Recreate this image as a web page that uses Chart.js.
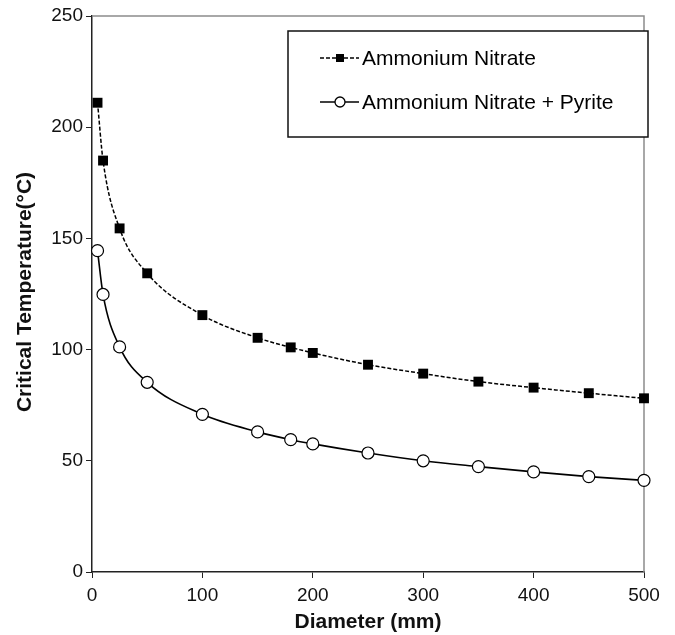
<!DOCTYPE html>
<html>
<head>
<meta charset="utf-8">
<script src="https://cdn.jsdelivr.net/npm/chart.js@4"></script>
<style>
  html, body { margin: 0; padding: 0; background: #fff; }
  #wrap { width: 675px; height: 635px; }
</style>
</head>
<body>
<div id="wrap"><canvas id="chart" width="675" height="635"></canvas></div>
<script>
// values
const diameters = [5, 10, 25, 50, 100, 150, 180, 200, 250, 300, 350, 400, 450, 500];
const nitrateTemps = [211, 185, 154.5, 134.3, 115.5, 105.3, 101, 98.5, 93.2, 89.2, 85.6, 82.9, 80.4, 78.1];
const pyriteTemps = [144.5, 124.8, 101.2, 85.3, 70.9, 63, 59.5, 57.6, 53.5, 50, 47.4, 45, 42.9, 41.2];
const seriesNames = ['Ammonium Nitrate', 'Ammonium Nitrate + Pyrite'];
const xTicks = [0, 100, 200, 300, 400, 500];
const yTicks = [0, 50, 100, 150, 200, 250];
const yTitle = 'Critical Temperature(°C)';

const font = 'Liberation Sans, Arial, sans-serif';

function toPoints(ys) {
    return diameters.map((d, i) => ({ x: d, y: ys[i] }));
}

// gray top / right frame lines + rotated y title
const frame = {
    id: 'frame',
    beforeDatasetsDraw(chart) {
        const { ctx, chartArea: a } = chart;
        ctx.save();
        ctx.strokeStyle = '#8c8c8c';
        ctx.lineWidth = 1.5;
        ctx.beginPath();
        ctx.moveTo(a.left, a.top);
        ctx.lineTo(a.right, a.top);
        ctx.lineTo(a.right, a.bottom);
        ctx.stroke();

        ctx.translate(25, 292);
        ctx.rotate(-Math.PI / 2);
        ctx.font = 'bold 21px ' + font;
        ctx.fillStyle = '#111';
        ctx.textAlign = 'center';
        ctx.textBaseline = 'middle';
        ctx.fillText(yTitle, 0, 0);
        ctx.restore();
    }
};

// boxed legend in the upper right
const boxLegend = {
    id: 'boxLegend',
    afterDatasetsDraw(chart) {
        const ctx = chart.ctx;
        const bx = 288, by = 31, bw = 360, bh = 106;
        ctx.save();
        ctx.fillStyle = '#fff';
        ctx.fillRect(bx, by, bw, bh);
        ctx.strokeStyle = '#111';
        ctx.lineWidth = 1.5;
        ctx.strokeRect(bx, by, bw, bh);
        ctx.font = '21px ' + font;
        ctx.textBaseline = 'middle';
        chart.data.datasets.forEach((ds, i) => {
            const y = by + 27 + i * 44;
            ctx.strokeStyle = '#000';
            ctx.lineWidth = 1.3;
            ctx.setLineDash(ds.borderDash || []);
            ctx.beginPath();
            ctx.moveTo(320, y);
            ctx.lineTo(359, y);
            ctx.stroke();
            ctx.setLineDash([]);
            if (ds.pointStyle === 'rect') {
                ctx.fillStyle = '#000';
                ctx.fillRect(336, y - 4, 8, 8);
            } else {
                ctx.fillStyle = '#fff';
                ctx.beginPath();
                ctx.arc(340, y, 5, 0, Math.PI * 2);
                ctx.fill();
                ctx.stroke();
            }
            ctx.fillStyle = '#000';
            ctx.fillText(ds.label, 362, y + 1);
        });
        ctx.restore();
    }
};

new Chart(document.getElementById('chart'), {
    type: 'line',
    data: {
        datasets: [
            {
                label: seriesNames[0],
                data: toPoints(nitrateTemps),
                borderColor: '#000',
                borderWidth: 1.5,
                borderDash: [4, 2],
                pointStyle: 'rect',
                pointRadius: 7,
                pointBackgroundColor: '#000',
                pointBorderColor: '#000',
                pointBorderWidth: 0,
                cubicInterpolationMode: 'monotone',
                clip: false,
                fill: false
            },
            {
                label: seriesNames[1],
                data: toPoints(pyriteTemps),
                borderColor: '#000',
                borderWidth: 1.6,
                pointStyle: 'circle',
                pointRadius: 6,
                pointBackgroundColor: '#fff',
                pointBorderColor: '#000',
                pointBorderWidth: 1.2,
                cubicInterpolationMode: 'monotone',
                clip: false,
                fill: false
            }
        ]
    },
    options: {
        responsive: false,
        animation: false,
        layout: { padding: { top: 16, right: 31, left: 0, bottom: 0 } },
        plugins: {
            legend: { display: false },
            tooltip: { enabled: false }
        },
        scales: {
            x: {
                type: 'linear',
                min: 0,
                max: 500,
                afterBuildTicks: s => { s.ticks = xTicks.map(v => ({ value: v })); },
                afterFit: s => { s.height = 63; },
                border: { color: '#222', width: 1.5 },
                grid: { drawOnChartArea: false, color: '#222', tickLength: 6 },
                ticks: { color: '#111', font: { family: font, size: 19 }, padding: 6 },
                title: {
                    display: true,
                    text: 'Diameter (mm)',
                    color: '#111',
                    font: { family: font, size: 21, weight: 'bold' },
                    padding: { top: 0, bottom: 0 }
                }
            },
            y: {
                min: 0,
                max: 250,
                afterBuildTicks: s => { s.ticks = yTicks.map(v => ({ value: v })); },
                afterFit: s => { s.width = 92; },
                border: { color: '#222', width: 1.5 },
                grid: { drawOnChartArea: false, color: '#222', tickLength: 6 },
                ticks: { color: '#111', font: { family: font, size: 19 }, padding: 3 }
            }
        }
    },
    plugins: [frame, boxLegend]
});
</script>
</body>
</html>
